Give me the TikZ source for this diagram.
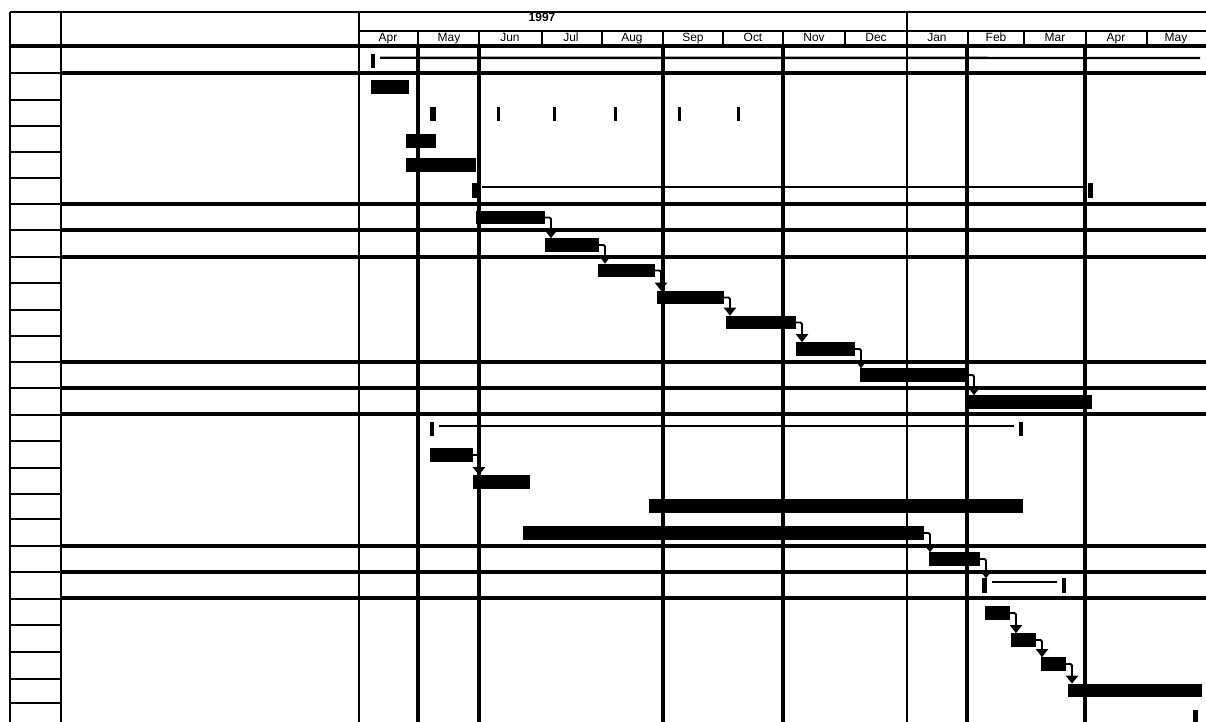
\documentclass[tikz,border=0pt]{standalone}
\usepackage{fontspec}
\setmainfont{Liberation Sans}
\usetikzlibrary{arrows.meta, positioning, calc}

% one bar / one marker, given left x, right x and centre y (in pixels)
\newcommand{\taskbar}[4]{%
  \node[bar, minimum width={(#3-#2)*0.025cm}] (#1) at ({(#2+#3)/2},#4) {};}
\newcommand{\flag}[4]{%
  \node[flag, minimum width={(#3-#2)*0.025cm}] (#1) at ({(#2+#3)/2},#4) {};}
% finish-to-start link between two tasks
\newcommand{\follow}[2]{%
  \coordinate (#1-turn) at ([xshift=0.15cm]#1.east);
  \draw[link] (#1.east) -| (#1-turn |- #2.north);}

\begin{document}
\begin{tikzpicture}[
    x=0.025cm, y=-0.025cm,
    bar/.style={fill=black, inner sep=0pt, outer sep=0pt, minimum height=0.34cm},
    flag/.style={fill=black, inner sep=0pt, outer sep=0pt, minimum height=0.36cm},
    link/.style={-{Triangle[width=0.3cm, length=0.2cm]}, line width=1.4pt, rounded corners=1pt},
    span/.style={line width=1.7pt},
    rule/.style={line width=1.6pt},
    heavyrule/.style={line width=2.3pt},
    month/.style={font=\fontsize{8.5}{10}\selectfont, anchor=base, inner sep=0pt},
    year/.style={font=\fontsize{8.5}{10}\selectfont\bfseries, inner sep=0pt}
]
    \useasboundingbox (0,0) rectangle (1206,722);

    % Table frame
    \draw[rule] (10,12) -- (1206,12);
    \draw[rule] (359,31) -- (1206,31);
    \draw[rule] (10,12) -- (10,722);
    \draw[rule] (61,12) -- (61,722);
    \draw[rule] (359,12) -- (359,722);
    \draw[rule] (907,12) -- (907,722);
    \foreach \x in {418,479,542,602,663,723,783,845,968,1024,1086,1147}
        \draw[rule] (\x,31) -- (\x,46);
    \foreach \x in {418,479,663,783,967,1085}
        \draw[heavyrule] (\x,46) -- (\x,722);

    % Row lines
    \foreach \y in {73,100,126,152,178,204,230,257,283,310,336,362,388,415,441,468,494,519,546,572,599,625,652,679,703}
        \draw[rule] (10,\y) -- (61,\y);
    \draw[heavyrule] (10,46) -- (1206,46);
    \foreach \y in {73,204,230,257,362,388,414,546,572,598}
        \draw[heavyrule] (61,\y) -- (1206,\y);

    % Timescale
    \node[year] (year) at (542,17.5) {1997};
    \foreach \m/\x [count=\i] in {Apr/388,May/449,Jun/510,Jul/571,Aug/632,Sep/693,Oct/753,
                                  Nov/814,Dec/876,Jan/937,Feb/996,Mar/1055,Apr/1116,May/1176}
        \node[month] (month\i) at (\x,41.5) {\m};

    % Summary rows
    \flag{s0a}{371}{375}{61}
    \coordinate (s0end) at (1200,58);
    \draw[span] ([shift={(5,4)}]s0a.north east) -- (s0end);

    \flag{s5a}{472}{477}{190.5}
    \flag{s5b}{1088}{1093}{190.5}
    \draw[span] ([shift={(5,4)}]s5a.north east) -- ([shift={(-5,4)}]s5b.north west);

    \flag{s14a}{430}{434}{429}
    \flag{s14b}{1019}{1023}{429}
    \draw[span] ([shift={(5,4)}]s14a.north east) -- ([shift={(-5,4)}]s14b.north west);

    \flag{s20a}{982}{987}{585.5}
    \flag{s20b}{1062}{1066}{585.5}
    \draw[span] ([shift={(5,4)}]s20a.north east) -- ([shift={(-5,4)}]s20b.north west);

    % Milestones
    \flag{ms1}{430}{436}{114}
    \flag{ms2}{497}{500}{114}
    \flag{ms3}{553}{556}{114}
    \flag{ms4}{614}{617}{114}
    \flag{ms5}{678}{681}{114}
    \flag{ms6}{737}{740}{114}
    \flag{fin}{1193}{1198}{717}

    % Tasks
    \taskbar{t1}{371}{409}{87}
    \taskbar{t3}{406}{436}{141}
    \taskbar{t4}{406}{476}{165}
    \taskbar{t6}{476}{545}{217.5}
    \taskbar{t7}{545}{599}{245}
    \taskbar{t8}{598}{655}{270.5}
    \taskbar{t9}{657}{724}{297.5}
    \taskbar{t10}{726}{796}{322.5}
    \taskbar{t11}{796}{855}{349}
    \taskbar{t12}{860}{968}{375}
    \taskbar{t13}{967}{1092}{402}
    \taskbar{t15}{430}{473}{455}
    \taskbar{t16}{473}{530}{482}
    \taskbar{t17}{649}{1023}{506}
    \taskbar{t18}{523}{924}{533}
    \taskbar{t19}{929}{980}{559}
    \taskbar{t21}{985}{1010}{613}
    \taskbar{t22}{1011}{1036}{640}
    \taskbar{t23}{1041}{1066}{664}
    \taskbar{t24}{1068}{1202}{690.5}

    % Links
    \follow{t6}{t7}
    \follow{t7}{t8}
    \follow{t8}{t9}
    \follow{t9}{t10}
    \follow{t10}{t11}
    \follow{t11}{t12}
    \follow{t12}{t13}
    \follow{t15}{t16}
    \follow{t18}{t19}
    \follow{t19}{s20a}
    \follow{t21}{t22}
    \follow{t22}{t23}
    \follow{t23}{t24}
\end{tikzpicture}
\end{document}
